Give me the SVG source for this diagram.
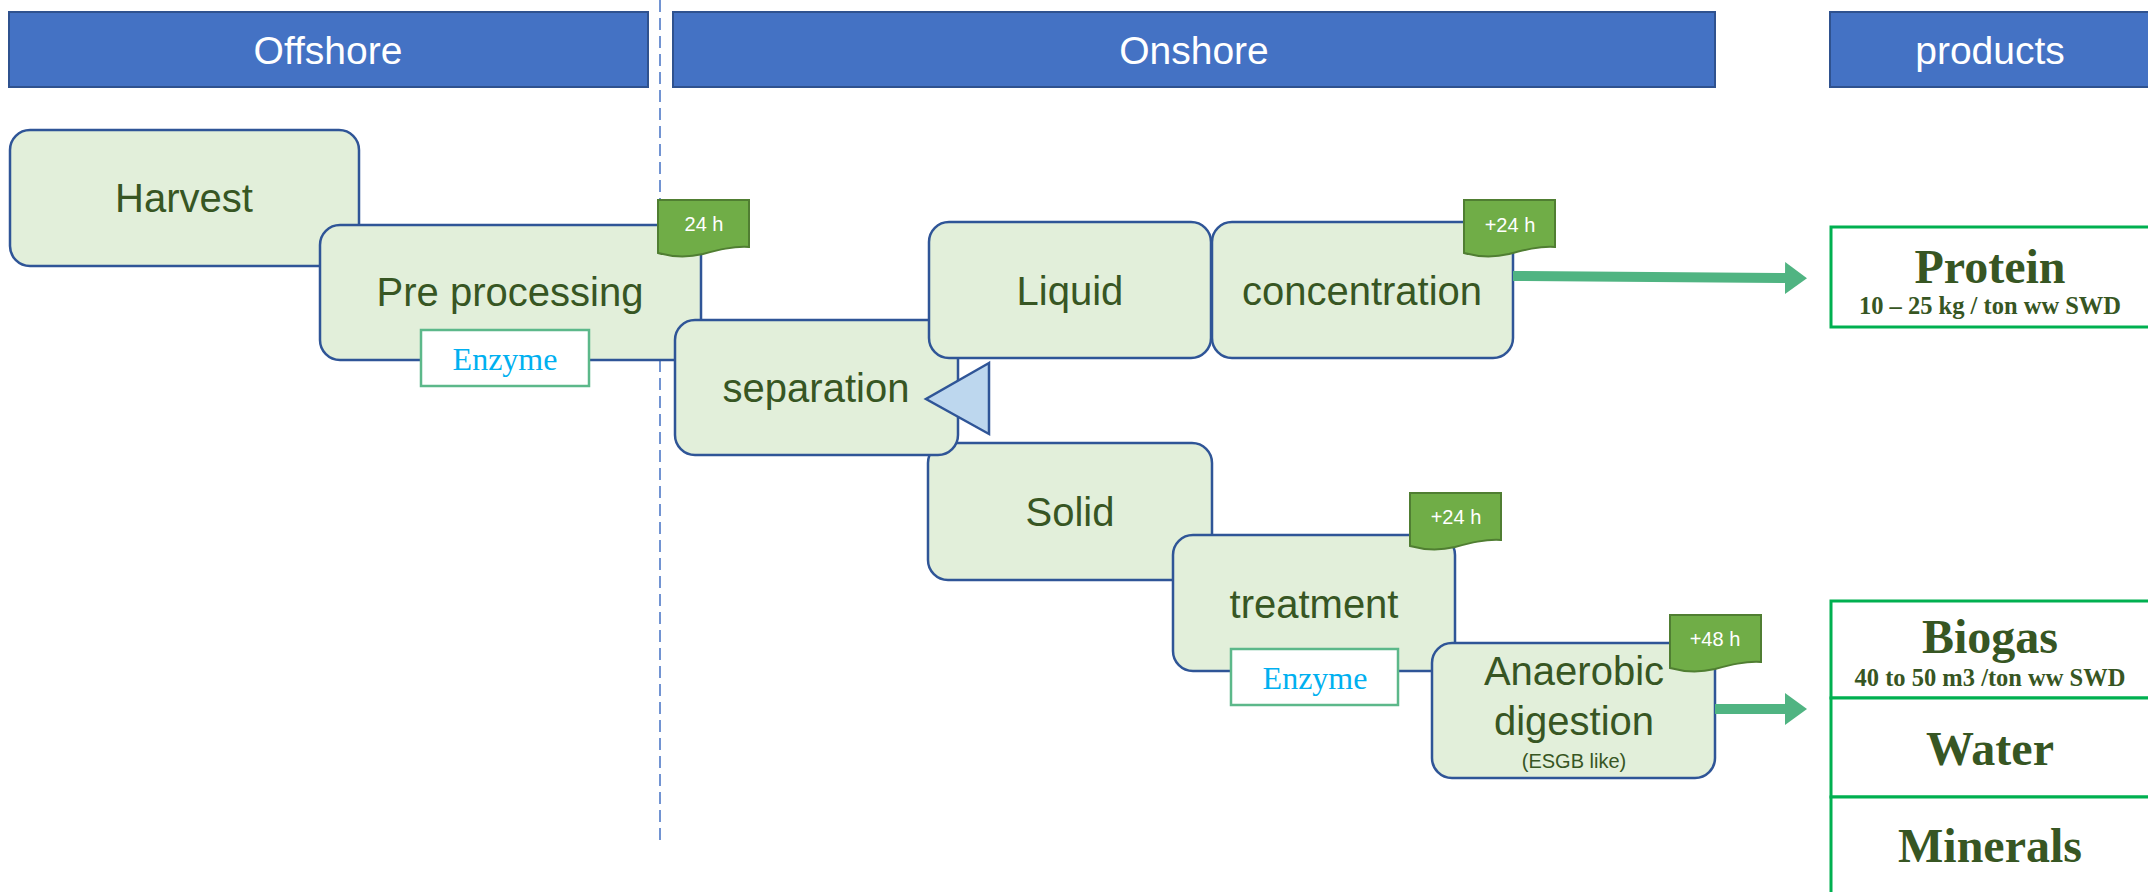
<svg xmlns="http://www.w3.org/2000/svg" xmlns:xlink="http://www.w3.org/1999/xlink" width="2148" height="892" viewBox="0 0 2148 892">
<style>
.hdr{fill:#4472C4;stroke:#2F528F;stroke-width:2}
.htxt{font-family:"Liberation Sans",Arial,sans-serif;font-size:39px;fill:#FFFFFF;text-anchor:middle}
.node{fill:#E2EFDA;stroke:#2F5597;stroke-width:2.5}
.ntxt{font-family:"Liberation Sans",Arial,sans-serif;font-size:40px;fill:#375623;text-anchor:middle}
.small{font-size:20px}
.enz{fill:#FFFFFF;stroke:#5CB88A;stroke-width:2.5}
.etxt{font-family:"Liberation Serif","Times New Roman",serif;font-size:32px;fill:#00B0F0;text-anchor:middle}
.tag{fill:#70AD47;stroke:#507E32;stroke-width:2}
.ttxt{font-family:"Liberation Sans",Arial,sans-serif;font-size:20px;fill:#FFFFFF;text-anchor:middle}
.prod{fill:#FFFFFF;stroke:#00B050;stroke-width:3}
.ptxt{font-family:"Liberation Serif","Times New Roman",serif;font-weight:bold;font-size:48px;fill:#375623;text-anchor:middle}
.psub{font-size:24.5px}
.conn{stroke:#50B482;stroke-width:10;fill:none}
</style>
<defs>
<path id="tagShape" d="M0,0 H91 V47 C75,46 60,50 45,54 C32,57 18,58 0,53 Z"/>
<marker id="ah" markerUnits="userSpaceOnUse" markerWidth="22" markerHeight="32" viewBox="0 0 22 32" refX="1" refY="16" orient="auto">
<path d="M0,0 L22,16 L0,32 Z" fill="#50B482"/>
</marker>
</defs>
<rect width="2148" height="892" fill="#FFFFFF"/>
<g id="headers">
<rect class="hdr" x="9" y="12" width="639" height="75"/>
<text class="htxt" x="328" y="64">Offshore</text>
<rect class="hdr" x="673" y="12" width="1042" height="75"/>
<text class="htxt" x="1194" y="64">Onshore</text>
<rect class="hdr" x="1830" y="12" width="330" height="75"/>
<text class="htxt" x="1990" y="64">products</text>
</g>
<line id="divider" x1="660" y1="0" x2="660" y2="840" stroke="#4472C4" stroke-width="1.5" stroke-dasharray="12,6"/>
<g id="harvest">
<rect class="node" x="10" y="130" width="349" height="136" rx="20"/>
<text class="ntxt" x="184" y="212">Harvest</text>
</g>
<g id="preprocessing">
<rect class="node" x="320" y="225" width="381" height="135" rx="20"/>
<text class="ntxt" x="510" y="306">Pre processing</text>
<rect class="enz" x="421" y="330" width="168" height="56"/>
<text class="etxt" x="505" y="370">Enzyme</text>
<use xlink:href="#tagShape" class="tag" x="658" y="200"/>
<text class="ttxt" x="704" y="231">24 h</text>
</g>
<g id="solid">
<rect class="node" x="928" y="443" width="284" height="137" rx="20"/>
<text class="ntxt" x="1070" y="526">Solid</text>
</g>
<g id="separation">
<rect class="node" x="675" y="320" width="283" height="135" rx="20"/>
<text class="ntxt" x="816" y="402">separation</text>
</g>
<g id="liquid">
<rect class="node" x="929" y="222" width="282" height="136" rx="20"/>
<text class="ntxt" x="1070" y="305">Liquid</text>
</g>
<g id="concentration">
<rect class="node" x="1212" y="222" width="301" height="136" rx="20"/>
<text class="ntxt" x="1362" y="305">concentration</text>
<use xlink:href="#tagShape" class="tag" x="1464" y="200"/>
<text class="ttxt" x="1510" y="232">+24 h</text>
</g>
<g id="splitter">
<polygon points="989,363 926,399 989,434" fill="#BDD7EE" stroke="#2F5597" stroke-width="2.5"/>
</g>
<g id="treatment">
<rect class="node" x="1173" y="535" width="282" height="136" rx="20"/>
<text class="ntxt" x="1314" y="618">treatment</text>
<rect class="enz" x="1231" y="649" width="167" height="56"/>
<text class="etxt" x="1315" y="689">Enzyme</text>
<use xlink:href="#tagShape" class="tag" x="1410" y="493"/>
<text class="ttxt" x="1456" y="524">+24 h</text>
</g>
<g id="anaerobic">
<rect class="node" x="1432" y="643" width="283" height="135" rx="20"/>
<text class="ntxt" x="1574" y="685">Anaerobic</text>
<text class="ntxt" x="1574" y="735">digestion</text>
<text class="ntxt small" x="1574" y="768">(ESGB like)</text>
<use xlink:href="#tagShape" class="tag" x="1670" y="615"/>
<text class="ttxt" x="1715" y="646">+48 h</text>
</g>
<g id="connectors">
<line class="conn" x1="1513" y1="276" x2="1786" y2="278" marker-end="url(#ah)"/>
<line class="conn" x1="1715" y1="709" x2="1786" y2="709" marker-end="url(#ah)"/>
</g>
<g id="protein">
<rect class="prod" x="1831" y="227" width="330" height="100"/>
<text class="ptxt" x="1990" y="283">Protein</text>
<text class="ptxt psub" x="1990" y="314">10 – 25 kg / ton ww SWD</text>
</g>
<g id="biogas">
<rect class="prod" x="1831" y="601" width="330" height="97"/>
<text class="ptxt" x="1990" y="653">Biogas</text>
<text class="ptxt psub" x="1990" y="686">40 to 50 m3 /ton ww SWD</text>
</g>
<g id="water">
<rect class="prod" x="1831" y="698" width="330" height="99"/>
<text class="ptxt" x="1990" y="765">Water</text>
</g>
<g id="minerals">
<rect class="prod" x="1831" y="797" width="330" height="120"/>
<text class="ptxt" x="1990" y="862">Minerals</text>
</g>
</svg>
